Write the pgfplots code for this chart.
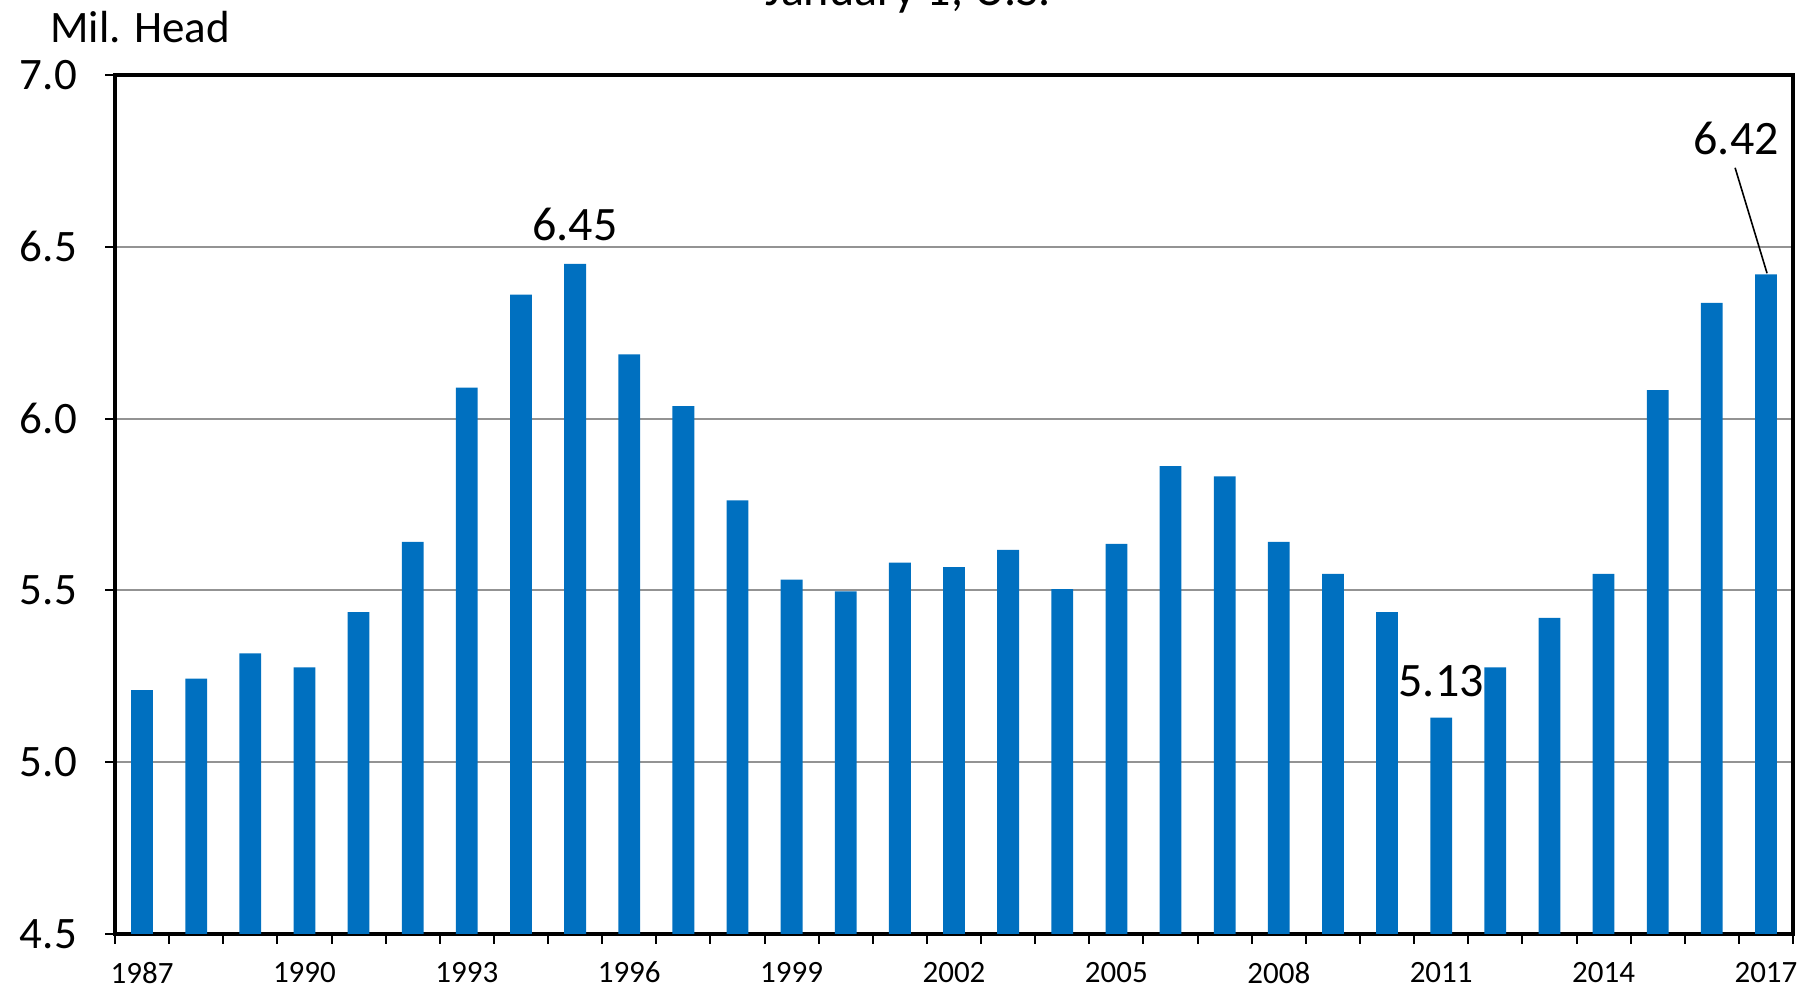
\documentclass[border=0pt]{standalone}
\usepackage{pgfplots}
\pgfplotsset{compat=1.18}
\usepackage{fontspec}
\setmainfont{Carlito}
\definecolor{barblue}{HTML}{0070C0}
\begin{document}
\begin{tikzpicture}
\begin{axis}[
  scale only axis, width=839pt, height=429.5pt,
  xmin=1986.5, xmax=2017.5, ymin=4.5, ymax=7.0,
  clip mode=individual,
  axis line style={line width=2pt},
  ytick={4.5,5.0,5.5,6.0,6.5,7.0},
  ymajorgrids, major grid style={gray!85, line width=1pt},
  xtick={1986.5,1987.5,1988.5,1989.5,1990.5,1991.5,1992.5,1993.5,1994.5,1995.5,1996.5,1997.5,1998.5,1999.5,2000.5,2001.5,2002.5,2003.5,2004.5,2005.5,2006.5,2007.5,2008.5,2009.5,2010.5,2011.5,2012.5,2013.5,2014.5,2015.5,2016.5,2017.5},
  xticklabels={},
  extra x ticks={1987,1990,1993,1996,1999,2002,2005,2008,2011,2014,2017},
  extra x tick labels={\mbox{1987},\mbox{1990},\mbox{1993},\mbox{1996},\mbox{1999},\mbox{2002},\mbox{2005},\mbox{2008},\mbox{2011},\mbox{2014},\mbox{2017}},
  extra x tick style={major tick length=0pt, xticklabel style={font=\fontsize{15.5}{18}\selectfont, yshift=-10.5pt}},
  tick align=outside, major tick length=5pt,
  tick style={black, line width=1pt},
  xtick pos=left, ytick pos=left,
  /pgf/number format/assume math mode=true,
  yticklabel style={/pgf/number format/fixed, /pgf/number format/fixed zerofill, /pgf/number format/precision=1, font=\fontsize{22.5}{27}\selectfont, xshift=-10.5pt},
]
\addplot[ybar, bar width=10.9pt, fill=barblue, draw=none] coordinates {
(1987,5.21) (1988,5.243) (1989,5.317) (1990,5.276) (1991,5.437) (1992,5.641)
(1993,6.090) (1994,6.361) (1995,6.45) (1996,6.187) (1997,6.036) (1998,5.762)
(1999,5.531) (2000,5.497) (2001,5.581) (2002,5.568) (2003,5.618) (2004,5.504)
(2005,5.635) (2006,5.862) (2007,5.832) (2008,5.641) (2009,5.548) (2010,5.437)
(2011,5.13) (2012,5.276) (2013,5.420) (2014,5.548) (2015,6.083) (2016,6.337)
(2017,6.42)
};
\node[font=\fontsize{24}{29}\selectfont] at (axis cs:1995,6.565) {6.45};
\node[font=\fontsize{24}{29}\selectfont] at (axis cs:2011,5.236) {5.13};
\node[font=\fontsize{24}{29}\selectfont] at (axis cs:2016.45,6.816) {6.42};
\draw[line width=0.8pt] (axis cs:2016.43,6.73) -- (axis cs:2017.02,6.423);
\node[anchor=base west, inner sep=0pt, font=\fontsize{22.5}{27}\selectfont] at ([xshift=-32.5pt, yshift=16pt]rel axis cs:0,1) {Mil. Head};
\node[anchor=base, font=\fontsize{24}{29}\selectfont] at ([yshift=34.5pt]rel axis cs:0.4726,1) {January 1, U.S.};
\coordinate (bl) at (rel axis cs:0,0);
\coordinate (tr) at (rel axis cs:1,1);
\end{axis}
\pgfresetboundingbox
\path[use as bounding box] ([shift={(-57.5pt,-29pt)}]bl) rectangle ([shift={(5pt,37.5pt)}]tr);
\end{tikzpicture}
\end{document}
